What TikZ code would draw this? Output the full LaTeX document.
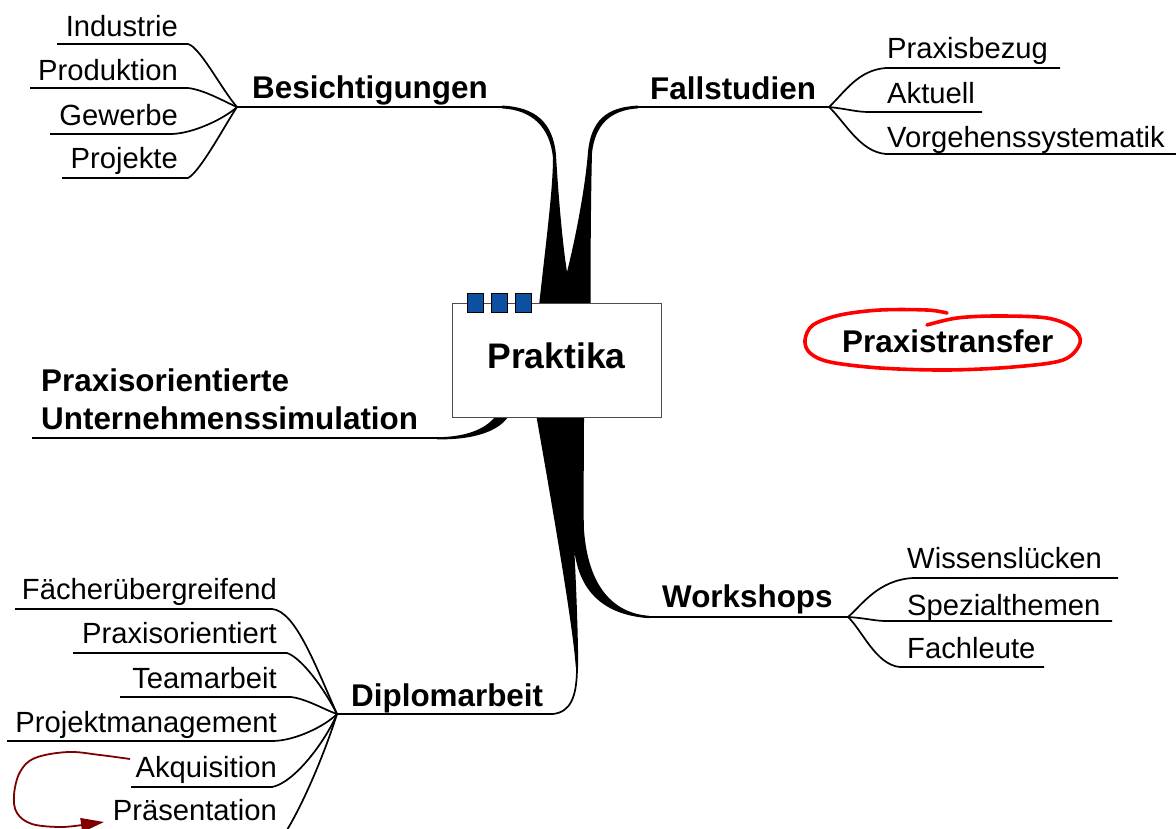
\documentclass[tikz,border=0pt]{standalone}
\usepackage{fontspec}
\setmainfont{Liberation Sans}
\usetikzlibrary{arrows.meta}
\definecolor{sqblue}{RGB}{13,80,160}
\definecolor{loopred}{RGB}{128,0,0}
\begin{document}
\begin{tikzpicture}[x=1pt,y=-1pt,
  sub/.style={inner sep=0pt, font=\fontsize{29.2}{30}\selectfont},
  topic/.style={inner sep=0pt, font=\fontsize{31.4}{38}\selectfont\bfseries},
  twig/.style={line width=1.7pt},
  trunk/.style={fill=black},
  box/.style={draw=black!70, line width=1pt, fill=white, inner sep=0pt,
              minimum width=209pt, minimum height=114pt,
              font=\fontsize{35.5}{38}\selectfont\bfseries, text depth=9.5pt},
  tab/.style={draw=black, line width=0.8pt, fill=sqblue, inner sep=0pt,
              minimum width=16pt, minimum height=19pt},
]
\useasboundingbox (0,0) rectangle (1176,828);

% ---------- trunks ----------
% upper left trunk (Besichtigungen)
\fill[trunk] (502,105.6) .. controls (535,107) and (553,122) .. (556,155)
   .. controls (558,190) and (562,240) .. (567,272)
   -- (567,306) -- (539,306)
   .. controls (545,250) and (553,190) .. (553,158)
   .. controls (550,127) and (532,110) .. (502,108.4) -- cycle;
% upper right trunk (Fallstudien)
\fill[trunk] (638,105.6) .. controls (606,107) and (591,121) .. (588,152)
   .. controls (585,190) and (575,240) .. (567,272)
   -- (567,306) -- (590.5,306)
   .. controls (590.5,250) and (591,190) .. (592,153)
   .. controls (595,125) and (610,110) .. (638,108.4) -- cycle;
% lower trunks (Workshops and Diplomarbeit)
\fill[trunk] (536,414) -- (584,414)
   .. controls (584,480) and (583,500) .. (584,530)
   .. controls (588,585) and (612,613) .. (649,615.8)
   -- (649,618.2)
   .. controls (604,615) and (581,592) .. (575,555)
   .. controls (574,545) and (573.5,535) .. (573,524)
   .. controls (576,580) and (578,630) .. (578.2,667)
   -- (575.8,667)
   .. controls (573,630) and (560,550) .. (536,414) -- cycle;
% trunk to Unternehmenssimulation
\fill[trunk] (437,437.2) .. controls (468,437) and (488,428) .. (497,414)
   -- (510,414) .. controls (500,432) and (472,440) .. (437,439.3) -- cycle;

% ---------- central box ----------
\node[box] (praktika) at (556.5,360) {Praktika};
\node[tab] (tab1) at (475,302.5) {};
\node[tab] (tab2) at (499,302.5) {};
\node[tab] (tab3) at (523,302.5) {};

% ---------- Besichtigungen ----------
\coordinate (bF) at (237,107);
\coordinate (bE) at (502,107);
\node[topic, anchor=base west] (bes) at (252,98) {Besichtigungen};
\draw[twig] (bF) -- (bE);
\coordinate (i1) at (57,44);  \coordinate (i2) at (188,44);
\coordinate (p1) at (30,88);  \coordinate (p2) at (188,88);
\coordinate (g1) at (50,134); \coordinate (g2) at (172,134);
\coordinate (j1) at (62,178); \coordinate (j2) at (188,178);
\node[sub, anchor=base east] (ind) at (178,36) {Industrie};
\node[sub, anchor=base east] (pro) at (178,80) {Produktion};
\node[sub, anchor=base east] (gew) at (178,125) {Gewerbe};
\node[sub, anchor=base east] (prj) at (178,168) {Projekte};
\draw[twig] (i1) -- (i2) .. controls (200,47) and (222,90) .. (bF);
\draw[twig] (p1) -- (p2) .. controls (205,90) and (225,102) .. (bF);
\draw[twig] (g1) -- (g2) .. controls (195,133) and (225,118) .. (bF);
\draw[twig] (j1) -- (j2) .. controls (200,172) and (225,125) .. (bF);

% ---------- Fallstudien ----------
\coordinate (fE) at (638,107);
\coordinate (fF) at (829,107);
\node[topic, anchor=base west] (fal) at (650,99) {Fallstudien};
\draw[twig] (fE) -- (fF);
\coordinate (pb1) at (886,68);  \coordinate (pb2) at (1060,68);
\coordinate (ak1) at (869,112); \coordinate (ak2) at (982,112);
\coordinate (vo1) at (886,154); \coordinate (vo2) at (1176,154);
\node[sub, anchor=base west] (pbz) at (887,58) {Praxisbezug};
\node[sub, anchor=base west] (akt) at (887,103) {Aktuell};
\node[sub, anchor=base west] (vgs) at (887,147) {Vorgehenssystematik};
\draw[twig] (fF) .. controls (845,92) and (858,70) .. (pb1) -- (pb2);
\draw[twig] (fF) .. controls (848,109) and (856,112) .. (ak1) -- (ak2);
\draw[twig] (fF) .. controls (845,122) and (860,152) .. (vo1) -- (vo2);

% ---------- Praxisorientierte Unternehmenssimulation ----------
\coordinate (uL) at (32,438);
\coordinate (uR) at (437,438);
\node[topic, anchor=base west, align=left] (pus) at (41,429)
  {Praxisorientierte\\Unternehmenssimulation};
\draw[twig] (uL) -- (uR);

% ---------- Workshops ----------
\coordinate (wE) at (649,617);
\coordinate (wF) at (848,617);
\node[topic, anchor=base west] (wor) at (662,607) {Workshops};
\draw[twig] (wE) -- (wF);
\coordinate (wl1) at (913,578); \coordinate (wl2) at (1118,578);
\coordinate (sp1) at (886,621); \coordinate (sp2) at (1112,621);
\coordinate (fa1) at (900,667); \coordinate (fa2) at (1044,667);
\node[sub, anchor=base west] (wis) at (907,568) {Wissenslücken};
\node[sub, anchor=base west] (spe) at (907,615) {Spezialthemen};
\node[sub, anchor=base west] (fac) at (907,658) {Fachleute};
\draw[twig] (wF) .. controls (862,605) and (878,580) .. (wl1) -- (wl2);
\draw[twig] (wF) .. controls (865,618) and (875,621) .. (sp1) -- (sp2);
\draw[twig] (wF) .. controls (862,630) and (876,665) .. (fa1) -- (fa2);

% ---------- Diplomarbeit ----------
\coordinate (dF) at (337,714);
\coordinate (dE) at (553,714);
\coordinate (dT) at (577,667);
\node[topic, anchor=base west] (dip) at (351,706) {Diplomarbeit};
\draw[twig] (dF) -- (dE) .. controls (570,712) and (577,698) .. (dT);
\coordinate (fu1) at (15,609);  \coordinate (fu2) at (272,609);
\coordinate (po1) at (73,653);  \coordinate (po2) at (287,653);
\coordinate (te1) at (120,697); \coordinate (te2) at (291,697);
\coordinate (pm1) at (7,741);   \coordinate (pm2) at (272,741);
\coordinate (aq1) at (131,787); \coordinate (aq2) at (272,787);
\coordinate (pr2) at (287,830);
\node[sub, anchor=base east] (fue) at (277,599) {Fächerübergreifend};
\node[sub, anchor=base east] (pxo) at (277,643) {Praxisorientiert};
\node[sub, anchor=base east] (tea) at (277,688) {Teamarbeit};
\node[sub, anchor=base east] (pjm) at (277,732) {Projektmanagement};
\node[sub, anchor=base east] (akq) at (277,777) {Akquisition};
\node[sub, anchor=base east] (prs) at (277,820) {Präsentation};
\draw[twig] (fu1) -- (fu2) .. controls (295,611) and (314,662) .. (dF);
\draw[twig] (po1) -- (po2) .. controls (302,658) and (325,690) .. (dF);
\draw[twig] (te1) -- (te2) .. controls (307,699) and (325,710) .. (dF);
\draw[twig] (pm1) -- (pm2) .. controls (295,741) and (325,726) .. (dF);
\draw[twig] (aq1) -- (aq2) .. controls (294,783) and (325,742) .. (dF);
\draw[twig] (pr2) .. controls (305,800) and (325,752) .. (dF);

% ---------- loop arrow ----------
\coordinate (lS) at (130,759);
\coordinate (lT) at (104,822);
\draw[loopred, line width=1.8pt, -{Triangle[length=23pt,width=14pt]}]
  plot[smooth, tension=0.6] coordinates {(lS) (100,755) (68,752) (35,758) (20,772) (14,795) (17,813) (32,824) (60,827) (82,825)}
  -- (lT);

% ---------- Praxistransfer ----------
\node[topic, anchor=base west] (ptf) at (842,352) {Praxistransfer};
\draw[red, line width=3.6pt, line cap=round, line join=round]
  plot[smooth, tension=0.55] coordinates {(947,313) (927,310) (880,310) (840,315) (813,325) (805,340) (810,353) (830,362) (880,368) (947,370) (1013,367) (1063,360) (1080,343) (1073,328) (1047,318) (997,316) (957,318) (927,325)};
\end{tikzpicture}
\end{document}
